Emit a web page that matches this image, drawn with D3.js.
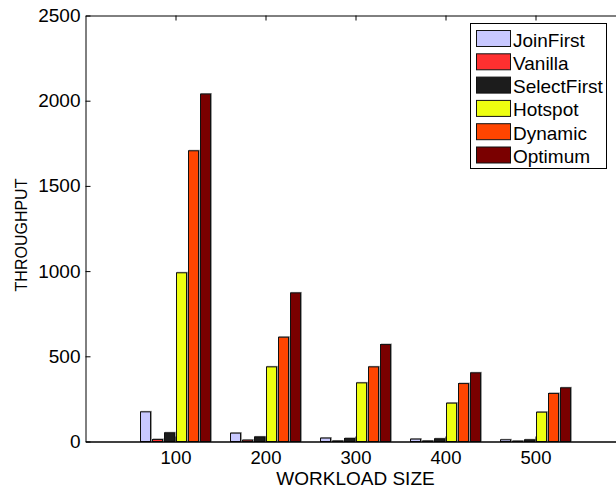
<!DOCTYPE html>
<html>
<head>
<meta charset="utf-8">
<script src="https://cdn.jsdelivr.net/npm/d3@7"></script>
<style>
  html, body { margin: 0; padding: 0; background: #fff; }
  svg { display: block; font-family: "Liberation Sans", Arial, Helvetica, sans-serif; }
</style>
</head>
<body>
<svg id="chart" width="616" height="490"></svg>
<script>
const categories = [100, 200, 300, 400, 500];
const seriesNames = ["JoinFirst", "Vanilla", "SelectFirst", "Hotspot", "Dynamic", "Optimum"];
const seriesColors = ["#c8c8ff", "#ff3030", "#1c1c1c", "#eeff10", "#ff4500", "#7a0000"];
const joinFirst   = [174, 49, 20, 14, 10];
const vanilla     = [12, 8, 3, 3, 2];
const selectFirst = [51, 27, 18, 16, 10];
const hotspot     = [990, 438, 344, 225, 172];
const dynamic     = [1706, 612, 438, 340, 282];
const optimum     = [2039, 872, 569, 403, 315];
const yTicks = [0, 500, 1000, 1500, 2000, 2500];
const xLabel = "WORKLOAD SIZE";
const yLabel = "THROUGHPUT";

const seriesValues = [joinFirst, vanilla, selectFirst, hotspot, dynamic, optimum];

const svg = d3.select("#chart");
const pLeft = 85.5, pRight = 625.5, pTop = 15.5, pBottom = 441.5;

const x = d3.scaleLinear().domain([0, 600]).range([pLeft, pRight]);
const y = d3.scaleLinear().domain([0, 2500]).range([pBottom, pTop]);
const xInner = d3.scaleBand().domain(seriesNames).range([-36, 36])
  .paddingInner(1/6).paddingOuter(1/12);
const color = d3.scaleOrdinal().domain(seriesNames).range(seriesColors);

// bars
const data = [];
seriesNames.forEach((s, si) => {
  categories.forEach((c, ci) => data.push({ s, c, v: seriesValues[si][ci] }));
});

const g = svg.append("g");
// light shadow
g.selectAll("rect.shadow").data(data).enter().append("rect")
  .attr("class", "shadow")
  .attr("x", d => x(d.c) + xInner(d.s) + 1)
  .attr("y", d => y(d.v) - 0.5)
  .attr("width", xInner.bandwidth())
  .attr("height", d => Math.max(0, pBottom - y(d.v)))
  .attr("fill", "none")
  .attr("stroke", "#9a9a9a")
  .attr("stroke-width", 1);
g.selectAll("rect.bar").data(data).enter().append("rect")
  .attr("class", "bar")
  .attr("x", d => x(d.c) + xInner(d.s))
  .attr("y", d => y(d.v))
  .attr("width", xInner.bandwidth())
  .attr("height", d => Math.max(0, pBottom - y(d.v)))
  .attr("fill", d => color(d.s))
  .attr("stroke", "#111")
  .attr("stroke-width", 1);

// axes
const yAxis = d3.axisLeft(y).tickValues(yTicks).tickFormat(d3.format("d"))
  .tickSizeInner(-5).tickSizeOuter(0).tickPadding(5);
const ya = svg.append("g").attr("transform", `translate(${pLeft},0)`).call(yAxis);
ya.select(".domain").attr("stroke", "#000");
ya.selectAll(".tick line").attr("stroke", "#000");
ya.selectAll("text").attr("font-size", 19).attr("fill", "#000")
  .attr("font-family", "Liberation Sans, Arial, sans-serif");

const xAxis = d3.axisBottom(x).tickValues(categories).tickFormat(d3.format("d"))
  .tickSizeInner(-5).tickSizeOuter(0).tickPadding(9);
const xa = svg.append("g").attr("transform", `translate(0,${pBottom})`).call(xAxis);
xa.select(".domain").attr("stroke", "#000").attr("stroke-width", 1.3);
xa.selectAll(".tick line").attr("stroke", "#000");
xa.selectAll("text").attr("font-size", 18.5).attr("fill", "#000")
  .attr("font-family", "Liberation Sans, Arial, sans-serif");

const xTop = d3.axisTop(x).tickValues(categories).tickSizeInner(-5).tickSizeOuter(0).tickFormat("");
const xt = svg.append("g").attr("transform", `translate(0,${pTop})`).call(xTop);
xt.select(".domain").attr("stroke", "#000");
xt.selectAll(".tick line").attr("stroke", "#000");

// axis labels
svg.append("text").attr("x", (pLeft + pRight) / 2).attr("y", 485)
  .attr("text-anchor", "middle").attr("font-size", 19).text(xLabel);
svg.append("text").attr("transform", `translate(27,235) rotate(-90)`)
  .attr("text-anchor", "middle").attr("font-size", 16).text(yLabel);

// legend
const lg = svg.append("g");
lg.append("rect").attr("x", 470.5).attr("y", 23.5).attr("width", 136).attr("height", 145)
  .attr("fill", "#fff").attr("stroke", "#000");
const rowStep = 23.3;
seriesNames.forEach((s, i) => {
  lg.append("rect").attr("x", 476.5).attr("y", 30.5 + i * rowStep)
    .attr("width", 34).attr("height", 16)
    .attr("fill", color(s)).attr("stroke", "#111");
  lg.append("text").attr("x", 513).attr("y", 46.5 + i * rowStep)
    .attr("font-size", 19).text(s);
});
</script>
</body>
</html>
